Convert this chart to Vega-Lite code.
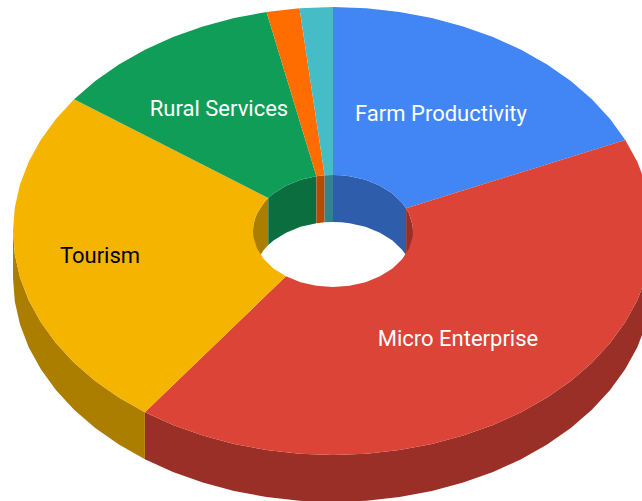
{"$schema":"https://vega.github.io/schema/vega-lite/v6.json","width":642,"height":501,"padding":0,"autosize":{"type":"none"},"background":"#ffffff","config":{"view":{"stroke":null}},"projection":{"type":"identity","reflectY":true,"scale":1,"translate":[333,231]},"resolve":{"scale":{"color":"independent"}},"layer":[
{"data":{"values":[
{"type":"Feature","properties":{"category":"Micro Enterprise"},"geometry":{"type":"Polygon","coordinates":[[[320,0],[318.2,-23.4],[313,-46.6],[304.3,-69.2],[292.3,-91.1],[277.1,-112],[258.9,-131.7],[237.8,-149.9],[214.1,-166.5],[188.1,-181.2],[160,-194],[130.2,-204.6],[98.9,-213],[66.5,-219.1],[33.5,-222.8],[0,-224],[-33.5,-222.8],[-66.5,-219.1],[-98.9,-213],[-130.2,-204.6],[-160,-194],[-188.1,-181.2],[-188.1,-228.2],[-160,-241],[-130.2,-251.6],[-98.9,-260],[-66.5,-266.1],[-33.5,-269.8],[0,-271],[33.5,-269.8],[66.5,-266.1],[98.9,-260],[130.2,-251.6],[160,-241],[188.1,-228.2],[214.1,-213.5],[237.8,-196.9],[258.9,-178.7],[277.1,-159],[292.3,-138.1],[304.3,-116.2],[313,-93.6],[318.2,-70.4],[320,-47],[320,0]]]}},
{"type":"Feature","properties":{"category":"Tourism"},"geometry":{"type":"Polygon","coordinates":[[[-188.1,-181.2],[-214.1,-166.5],[-237.8,-149.9],[-258.9,-131.7],[-277.1,-112],[-292.3,-91.1],[-304.3,-69.2],[-313,-46.6],[-318.2,-23.4],[-320,0],[-320,-47],[-318.2,-70.4],[-313,-93.6],[-304.3,-116.2],[-292.3,-138.1],[-277.1,-159],[-258.9,-178.7],[-237.8,-196.9],[-214.1,-213.5],[-188.1,-228.2],[-188.1,-181.2]]]}},
{"type":"Feature","properties":{"category":"Farm Productivity"},"geometry":{"type":"Polygon","coordinates":[[[0,56],[8.4,55.7],[16.6,54.8],[32.5,51.2],[47,45.3],[59.5,37.5],[69.3,28],[73.1,22.8],[73.1,-24.2],[69.3,-19],[59.5,-9.5],[47,-1.7],[32.5,4.2],[16.6,7.8],[8.4,8.7],[0,9],[0,56]]]}},
{"type":"Feature","properties":{"category":"Micro Enterprise"},"geometry":{"type":"Polygon","coordinates":[[[73.1,22.8],[76.1,17.3],[79.6,5.9],[80,0],[80,-47],[79.6,-41.1],[76.1,-29.7],[73.1,-24.2],[73.1,22.8]]]}},
{"type":"Feature","properties":{"category":"Tourism"},"geometry":{"type":"Polygon","coordinates":[[[-80,0],[-79.6,5.9],[-78.3,11.6],[-76.1,17.3],[-69.3,28],[-64.7,32.9],[-64.7,-14.1],[-69.3,-19],[-76.1,-29.7],[-78.3,-35.4],[-79.6,-41.1],[-80,-47],[-80,0]]]}},
{"type":"Feature","properties":{"category":"Rural Services"},"geometry":{"type":"Polygon","coordinates":[[[-64.7,32.9],[-59.5,37.5],[-47,45.3],[-32.5,51.2],[-16.6,54.8],[-16.6,7.8],[-32.5,4.2],[-47,-1.7],[-59.5,-9.5],[-64.7,-14.1],[-64.7,32.9]]]}},
{"type":"Feature","properties":{"category":"Other A"},"geometry":{"type":"Polygon","coordinates":[[[-16.6,54.8],[-8.4,55.7],[-8.4,8.7],[-16.6,7.8],[-16.6,54.8]]]}},
{"type":"Feature","properties":{"category":"Other B"},"geometry":{"type":"Polygon","coordinates":[[[-8.4,55.7],[0,56],[0,9],[-8.4,8.7],[-8.4,55.7]]]}}
]},"mark":{"type":"geoshape","clip":true},"encoding":{"color":{"field":"properties.category","type":"nominal","legend":null,"scale":{"domain":["Farm Productivity","Micro Enterprise","Tourism","Rural Services","Other A","Other B"],"range":["#2e5dab","#992f26","#ab7e00","#0a6e3e","#b34c00","#31848b"]}}}},
{"data":{"values":[
{"type":"Feature","properties":{"category":"Farm Productivity","share":18.3},"geometry":{"type":"Polygon","coordinates":[[[0,224],[33.5,222.8],[66.5,219.1],[98.9,213],[130.2,204.6],[160,194],[188.1,181.2],[214.1,166.5],[237.8,149.9],[258.9,131.7],[277.1,112],[292.3,91.1],[73.1,22.8],[69.3,28],[59.5,37.5],[47,45.3],[32.5,51.2],[16.6,54.8],[8.4,55.7],[0,56],[0,224]]]}},
{"type":"Feature","properties":{"category":"Micro Enterprise","share":41.7},"geometry":{"type":"Polygon","coordinates":[[[292.3,91.1],[304.3,69.2],[313,46.6],[318.2,23.4],[320,0],[318.2,-23.4],[313,-46.6],[304.3,-69.2],[292.3,-91.1],[277.1,-112],[258.9,-131.7],[237.8,-149.9],[214.1,-166.5],[188.1,-181.2],[160,-194],[130.2,-204.6],[98.9,-213],[66.5,-219.1],[33.5,-222.8],[0,-224],[-33.5,-222.8],[-66.5,-219.1],[-98.9,-213],[-130.2,-204.6],[-160,-194],[-188.1,-181.2],[-47,-45.3],[-32.5,-51.2],[-16.6,-54.8],[0,-56],[16.6,-54.8],[32.5,-51.2],[47,-45.3],[59.5,-37.5],[69.3,-28],[76.1,-17.3],[79.6,-5.9],[80,0],[79.6,5.9],[76.1,17.3],[73.1,22.8],[292.3,91.1]]]}},
{"type":"Feature","properties":{"category":"Tourism","share":25},"geometry":{"type":"Polygon","coordinates":[[[-188.1,-181.2],[-214.1,-166.5],[-237.8,-149.9],[-258.9,-131.7],[-277.1,-112],[-292.3,-91.1],[-304.3,-69.2],[-313,-46.6],[-318.2,-23.4],[-320,0],[-318.2,23.4],[-313,46.6],[-304.3,69.2],[-292.3,91.1],[-277.1,112],[-258.9,131.7],[-64.7,32.9],[-69.3,28],[-76.1,17.3],[-78.3,11.6],[-79.6,5.9],[-80,0],[-79.6,-5.9],[-76.1,-17.3],[-69.3,-28],[-59.5,-37.5],[-47,-45.3],[-188.1,-181.2]]]}},
{"type":"Feature","properties":{"category":"Rural Services","share":11.7},"geometry":{"type":"Polygon","coordinates":[[[-258.9,131.7],[-237.8,149.9],[-214.1,166.5],[-188.1,181.2],[-160,194],[-130.2,204.6],[-98.9,213],[-66.5,219.1],[-16.6,54.8],[-32.5,51.2],[-47,45.3],[-59.5,37.5],[-64.7,32.9],[-258.9,131.7]]]}},
{"type":"Feature","properties":{"category":"Other A","share":1.65},"geometry":{"type":"Polygon","coordinates":[[[-66.5,219.1],[-33.5,222.8],[-8.4,55.7],[-16.6,54.8],[-66.5,219.1]]]}},
{"type":"Feature","properties":{"category":"Other B","share":1.65},"geometry":{"type":"Polygon","coordinates":[[[-33.5,222.8],[0,224],[0,56],[-8.4,55.7],[-33.5,222.8]]]}}
]},"mark":{"type":"geoshape","clip":true},"encoding":{"color":{"field":"properties.category","type":"nominal","legend":null,"scale":{"domain":["Farm Productivity","Micro Enterprise","Tourism","Rural Services","Other A","Other B"],"range":["#4285f4","#db4437","#f4b400","#0f9d58","#ff6d00","#46bdc6"]}}}},
{"data":{"values":[
{"name":"Farm Productivity","lon":108,"lat":117},
{"name":"Rural Services","lon":-114,"lat":122.5},
{"name":"Tourism","lon":-233,"lat":-25},
{"name":"Micro Enterprise","lon":125,"lat":-107.5}
]},"mark":{"type":"text","font":"Roboto","fontSize":22,"align":"center","baseline":"middle"},"encoding":{"longitude":{"field":"lon","type":"quantitative"},"latitude":{"field":"lat","type":"quantitative"},"text":{"field":"name","type":"nominal"},"color":{"condition":{"test":"datum.name === 'Tourism'","value":"#000000"},"value":"#ffffff"}}}
]}
